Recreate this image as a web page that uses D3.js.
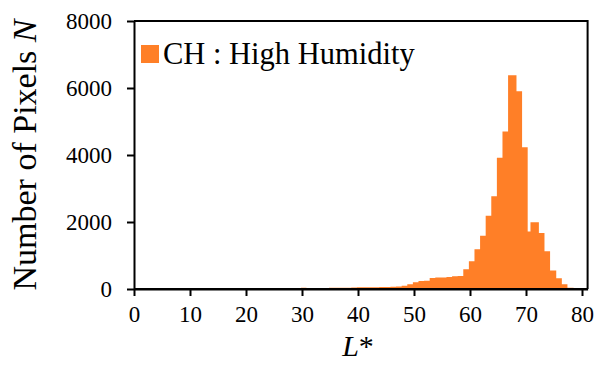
<!DOCTYPE html>
<html>
<head>
<meta charset="utf-8">
<script src="https://cdn.jsdelivr.net/npm/d3@7"></script>
<style>
  html, body { margin: 0; padding: 0; background: #fff; }
  svg { display: block; }
  text { font-family: "Liberation Serif", "Times New Roman", serif; fill: #000; }
</style>
</head>
<body>
<svg id="chart" width="600" height="365"></svg>
<script>
// ---- data ----
const binStart = [29.8, 30.8, 31.8, 32.8, 33.8, 34.8, 35.8, 36.8, 37.8, 38.8, 39.8, 40.8, 41.8, 42.8, 43.8, 44.8, 45.8, 46.8, 47.8, 48.8, 49.8, 50.8, 51.8, 52.8, 53.8, 54.8, 55.8, 56.8, 57.8, 58.8, 59.8, 60.8, 61.8, 62.8, 63.8, 64.8, 65.8, 66.8, 68.3, 69.3, 70.3, 70.8, 72.3, 73.3, 74.3, 75.4, 76.4, 77.4, 78.5];
const binEnd = 80.2;
const counts = [35, 30, 25, 30, 30, 35, 35, 40, 40, 45, 50, 50, 55, 55, 60, 60, 65, 75, 100, 140, 200, 240, 250, 330, 340, 345, 360, 380, 390, 590, 830, 1190, 1590, 2190, 2770, 3915, 4700, 6380, 5900, 4230, 1717, 1990, 1670, 1130, 550, 320, 140, 40, 20];
const xTicks = [0, 10, 20, 30, 40, 50, 60, 70, 80];
const yTicks = [0, 2000, 4000, 6000, 8000];
const seriesName = "CH : High Humidity";
const xTitle = "L";
const yTitle = "Number of Pixels ";
const yTitleItalic = "N";

// ---- layout ----
const svg = d3.select("#chart");
const mLeft = 134, mRight = 587.6, mTop = 21, mBottom = 289;
const x = d3.scaleLinear().domain([0, 81]).range([mLeft, mRight]);
const y = d3.scaleLinear().domain([0, 8000]).range([mBottom, mTop]);
const color = "#FF7F27";

const pts = binStart.map((s, i) => ({ l: s, n: counts[i] }));
pts.push({ l: binEnd, n: counts[counts.length - 1] });

const area = d3.area()
  .x(d => x(d.l))
  .y0(y(0))
  .y1(d => y(d.n))
  .curve(d3.curveStepAfter);

svg.append("path").datum(pts).attr("d", area).attr("fill", color);

// frame (top & right)
svg.append("path")
  .attr("d", `M${mLeft},${mTop}H${mRight}V${mBottom}`)
  .attr("fill", "none").attr("stroke", "#000").attr("stroke-width", 2);

// axes
const xAxis = svg.append("g").attr("transform", `translate(0,${mBottom})`)
  .call(d3.axisBottom(x).tickValues(xTicks).tickFormat(d3.format("d")).tickSize(7).tickPadding(10).tickSizeOuter(0));
const yAxis = svg.append("g").attr("transform", `translate(${mLeft},0)`)
  .call(d3.axisLeft(y).tickValues(yTicks).tickFormat(d3.format("d")).tickSize(7).tickPadding(15).tickSizeOuter(0));
[xAxis, yAxis].forEach(g => {
  g.select(".domain").attr("stroke", "#000").attr("stroke-width", 2);
  g.selectAll(".tick line").attr("stroke", "#000").attr("stroke-width", 2);
  g.selectAll(".tick text").attr("font-size", 23)
    .attr("font-family", "Liberation Serif, Times New Roman, serif").attr("fill", "#000");
});
svg.append("path").attr("d", `M${mLeft},${mBottom}H${mRight}`).attr("stroke", "#000").attr("stroke-width", 2);

// legend
svg.append("rect").attr("x", 141).attr("y", 45).attr("width", 18).attr("height", 18).attr("fill", color);
svg.append("text").attr("x", 163).attr("y", 64).attr("font-size", 30.5).text(seriesName);

// x title
const xt = svg.append("text").attr("x", x(40)).attr("y", 356).attr("text-anchor", "middle").attr("font-size", 30);
xt.append("tspan").attr("font-style", "italic").text(xTitle);
xt.append("tspan").text("*");

// y title
const yt = svg.append("text")
  .attr("transform", `translate(36,${(mTop + mBottom) / 2}) rotate(-90)`)
  .attr("text-anchor", "middle").attr("font-size", 34);
yt.append("tspan").text(yTitle);
yt.append("tspan").attr("font-style", "italic").text(yTitleItalic);
</script>
</body>
</html>
